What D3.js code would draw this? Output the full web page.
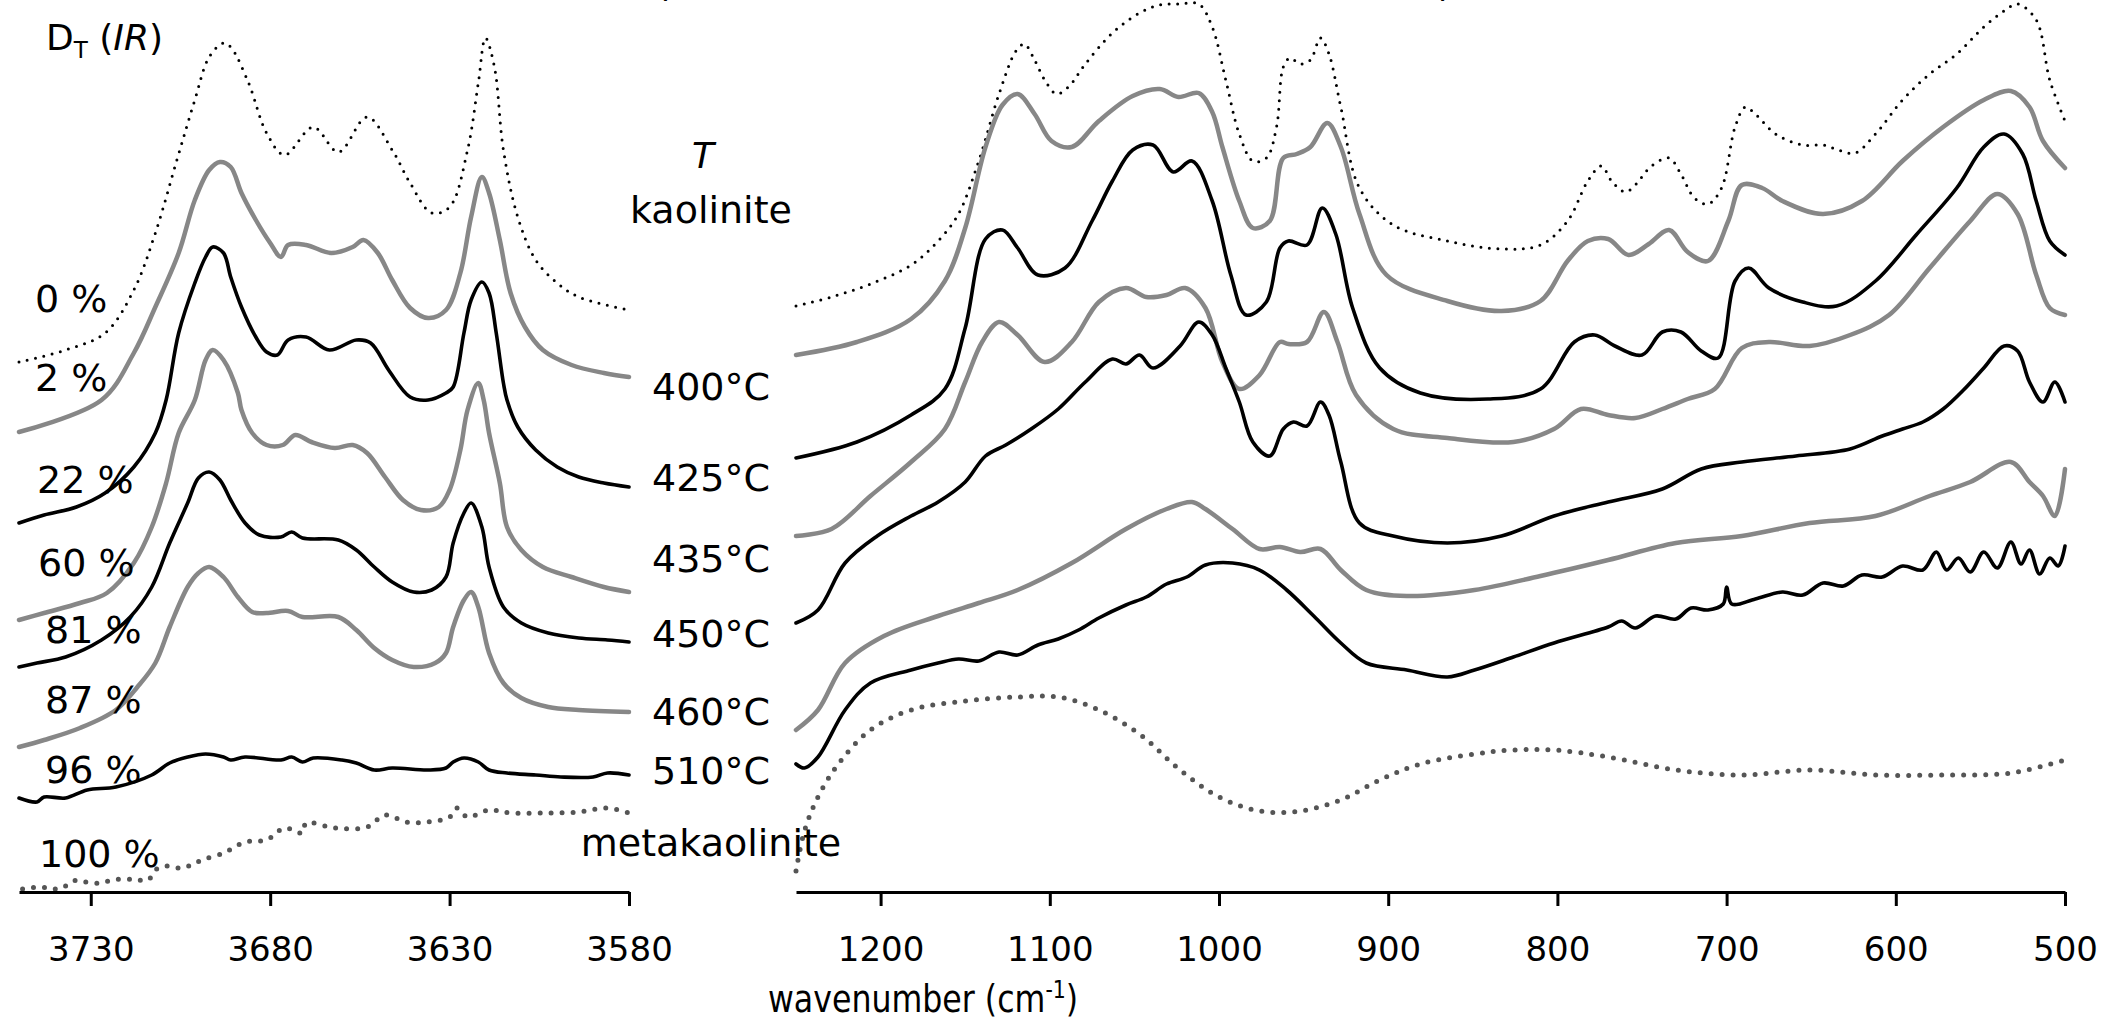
<!DOCTYPE html>
<html>
<head>
<meta charset="utf-8">
<script src="https://cdn.jsdelivr.net/npm/d3@7"></script>
<style>
  html, body { margin: 0; padding: 0; background: #fff; }
  svg { display: block; }
  text { font-family: "DejaVu Sans", sans-serif; fill: #000; }
</style>
</head>
<body>
<svg id="chart" width="2101" height="1020"></svg>
<script>
// ---- labels ---------------------------------------------------------------
const seriesNames = ["kaolinite", "400°C", "425°C", "435°C", "450°C", "460°C", "510°C", "metakaolinite"];
const conversionLabels = ["0 %", "2 %", "22 %", "60 %", "81 %", "87 %", "96 %", "100 %"];
const ohTicks = [3730, 3680, 3630, 3580];
const latticeTicks = [1200, 1100, 1000, 900, 800, 700, 600, 500];

// ---- OH-stretching region: [wavenumber, stacked absorbance] -----------------
const ohKaolinite = [[3750,5.30],[3737,5.42],[3726,5.59],[3718,6.02],[3712,6.59],[3706,7.32],[3701,7.92],[3697,8.35],[3693,8.49],[3691,8.45],[3686,8.09],[3681,7.59],[3676,7.37],[3668,7.65],[3661,7.40],[3653,7.75],[3646,7.42],[3641,7.09],[3635,6.79],[3630,6.85],[3625,7.42],[3622,8.09],[3620,8.54],[3617.5,8.25],[3615,7.42],[3611,6.75],[3606,6.32],[3600,6.09],[3594,5.95],[3580,5.82]];
const ohT400 = [[3750,4.60],[3727,4.92],[3718,5.39],[3712,5.85],[3705.5,6.39],[3701,6.92],[3697,7.22],[3694,7.30],[3691,7.25],[3688,6.99],[3684,6.72],[3680,6.49],[3677,6.35],[3675,6.47],[3670,6.47],[3663,6.39],[3657,6.45],[3654,6.52],[3650,6.39],[3646,6.12],[3641,5.84],[3636,5.74],[3631,5.82],[3627,6.19],[3624,6.75],[3621,7.15],[3619,6.99],[3616,6.52],[3613,5.99],[3609,5.65],[3604,5.42],[3596,5.27],[3587,5.19],[3580,5.15]];
const ohT425 = [[3750,3.69],[3743,3.77],[3734,3.85],[3726,3.99],[3718,4.25],[3712,4.59],[3709,4.92],[3705.5,5.59],[3701,6.09],[3698,6.35],[3696,6.45],[3693,6.39],[3691,6.15],[3688,5.85],[3684,5.55],[3681,5.40],[3678,5.37],[3675,5.52],[3670,5.55],[3663.5,5.42],[3656,5.52],[3652,5.49],[3647,5.22],[3641,4.95],[3636,4.92],[3631,4.99],[3629,5.05],[3626,5.59],[3624,5.92],[3621,6.10],[3619,5.99],[3617,5.59],[3615,5.09],[3614,4.92],[3611,4.65],[3606,4.42],[3600,4.25],[3594,4.15],[3587,4.09],[3580,4.05]];
const ohT435 = [[3750,2.72],[3743,2.79],[3733,2.89],[3725.5,2.99],[3718,3.29],[3713,3.65],[3709,4.09],[3705.5,4.59],[3701,4.92],[3698,5.32],[3696,5.42],[3693,5.32],[3689,4.99],[3688,4.82],[3685,4.59],[3681,4.47],[3676.5,4.47],[3673,4.57],[3668.5,4.50],[3662,4.44],[3657,4.47],[3653,4.39],[3648,4.15],[3643,3.92],[3638,3.82],[3633,3.85],[3630,4.02],[3627,4.42],[3625,4.82],[3622,5.09],[3620.5,4.92],[3619,4.59],[3616,4.09],[3614,3.65],[3610,3.42],[3604,3.25],[3596,3.15],[3587,3.05],[3580,3.00]];
const ohT450 = [[3750,2.25],[3745,2.29],[3737,2.35],[3727,2.52],[3719,2.75],[3713,3.05],[3708,3.49],[3703,3.89],[3700,4.14],[3697,4.20],[3694,4.12],[3691,3.92],[3687,3.69],[3683,3.57],[3677,3.55],[3674,3.60],[3671,3.54],[3661,3.52],[3656,3.42],[3651,3.25],[3646,3.10],[3640,3.00],[3635,3.02],[3631,3.15],[3629,3.49],[3626,3.79],[3624,3.89],[3621,3.65],[3619,3.25],[3615,2.85],[3610,2.69],[3602.5,2.59],[3594,2.54],[3586,2.52],[3580,2.50]];
const ohT460 = [[3750,1.45],[3743,1.52],[3733,1.64],[3723,1.82],[3717,2.05],[3712,2.29],[3708,2.65],[3703,3.05],[3700,3.19],[3697,3.25],[3693,3.15],[3689,2.95],[3685,2.80],[3681,2.79],[3675,2.81],[3671,2.75],[3661,2.75],[3656,2.62],[3651,2.44],[3646,2.32],[3640,2.25],[3634,2.29],[3631,2.39],[3629,2.65],[3626,2.92],[3624,3.00],[3622,2.85],[3619,2.39],[3615,2.09],[3610,1.94],[3602.5,1.85],[3594,1.82],[3580,1.80]];
const ohT510 = [[3750,0.94],[3745,0.90],[3743,0.95],[3737,0.94],[3731,1.02],[3723,1.05],[3713,1.17],[3708,1.29],[3703,1.35],[3698,1.38],[3693,1.35],[3691,1.32],[3687,1.35],[3677,1.32],[3674,1.35],[3671,1.30],[3668,1.34],[3660,1.32],[3656,1.29],[3651,1.22],[3646,1.24],[3636,1.22],[3631,1.24],[3629,1.30],[3626,1.34],[3622,1.30],[3619,1.22],[3614,1.19],[3606,1.17],[3599,1.15],[3590,1.15],[3586,1.19],[3580,1.17]];
const ohMeta = [[3749,0.03],[3744,0.05],[3741,0.03],[3738,0.04],[3735,0.11],[3733,0.11],[3730,0.09],[3727,0.09],[3724,0.12],[3720,0.13],[3717,0.12],[3714,0.12],[3712,0.22],[3709,0.26],[3705,0.24],[3702,0.27],[3699,0.32],[3693,0.39],[3687,0.50],[3681,0.52],[3676,0.64],[3671,0.59],[3670,0.69],[3662,0.64],[3653,0.65],[3648,0.77],[3642,0.70],[3636,0.70],[3630,0.75],[3628,0.84],[3625,0.75],[3619,0.82],[3613,0.79],[3603,0.79],[3594,0.80],[3586,0.84],[3580,0.79]];

// ---- lattice region: [wavenumber, stacked absorbance] -----------------------
const latKaolinite = [[1250,5.86],[1229,5.95],[1206,6.08],[1182,6.27],[1166,6.51],[1154,6.78],[1142,7.31],[1130,7.98],[1120,8.41],[1115,8.48],[1109,8.32],[1103,8.12],[1096,7.98],[1089,8.05],[1079,8.28],[1063,8.59],[1047,8.79],[1035,8.87],[1023,8.88],[1012,8.88],[1004,8.65],[996,8.12],[988,7.58],[980,7.31],[972,7.34],[966,7.65],[962,8.25],[958,8.34],[952,8.28],[946,8.32],[940,8.54],[935,8.38],[928,7.85],[917,7.04],[897,6.67],[865,6.51],[833,6.43],[810,6.47],[794,6.71],[782,7.11],[774,7.26],[768,7.11],[760,7.00],[754,7.07],[745,7.25],[734,7.34],[727,7.18],[719,6.94],[711,6.88],[703,7.04],[695,7.65],[689,7.85],[683,7.78],[671,7.58],[655,7.47],[643,7.47],[634,7.42],[624,7.39],[612,7.58],[596,7.92],[580,8.18],[564,8.38],[548,8.65],[536,8.81],[528,8.88],[517,8.72],[509,8.12],[500,7.71]];
const latT400 = [[1250,5.37],[1214,5.50],[1182,5.73],[1162,6.11],[1150,6.64],[1138,7.45],[1128,7.87],[1119,7.98],[1109,7.78],[1099,7.51],[1087,7.45],[1071,7.71],[1051,7.96],[1035,8.03],[1024,7.95],[1012,7.99],[1004,7.80],[998,7.45],[988,6.91],[980,6.64],[970,6.71],[962,7.34],[954,7.38],[946,7.45],[936,7.69],[928,7.45],[917,6.78],[901,6.17],[865,5.91],[833,5.81],[810,5.91],[794,6.31],[782,6.51],[770,6.53],[758,6.37],[746,6.48],[734,6.62],[723,6.40],[711,6.31],[699,6.71],[691,7.07],[679,7.04],[667,6.91],[643,6.78],[620,6.91],[596,7.31],[572,7.65],[548,7.92],[532,8.01],[521,7.85],[513,7.51],[500,7.24]];
const latT425 = [[1250,4.34],[1214,4.50],[1182,4.77],[1162,5.03],[1150,5.64],[1138,6.53],[1128,6.62],[1119,6.44],[1107,6.17],[1091,6.24],[1075,6.71],[1063,7.11],[1051,7.42],[1039,7.47],[1027,7.20],[1016,7.31],[1004,6.91],[993,6.17],[984,5.77],[972,5.90],[964,6.44],[959,6.51],[948,6.47],[939,6.84],[931,6.58],[921,5.84],[905,5.24],[881,4.99],[841,4.93],[810,5.03],[790,5.50],[778,5.57],[766,5.46],[750,5.37],[738,5.60],[727,5.60],[715,5.41],[705,5.34],[695,6.11],[687,6.24],[675,6.04],[655,5.90],[635,5.86],[612,6.11],[588,6.57],[564,7.04],[548,7.45],[536,7.58],[525,7.38],[517,6.91],[509,6.51],[500,6.37]];
const latT435 = [[1250,3.56],[1229,3.63],[1206,3.96],[1182,4.30],[1162,4.63],[1150,5.10],[1140,5.50],[1130,5.70],[1119,5.57],[1103,5.30],[1087,5.50],[1071,5.90],[1055,6.04],[1043,5.95],[1031,5.97],[1020,6.04],[1008,5.84],[998,5.30],[988,5.03],[976,5.17],[964,5.50],[959,5.48],[948,5.50],[938,5.80],[930,5.50],[919,4.97],[897,4.63],[865,4.54],[826,4.50],[802,4.63],[786,4.83],[770,4.77],[754,4.74],[738,4.83],[723,4.93],[707,5.03],[691,5.44],[675,5.50],[651,5.46],[627,5.57],[604,5.77],[580,6.24],[556,6.71],[540,6.98],[528,6.78],[517,6.17],[509,5.84],[500,5.77]];
const latT450 = [[1250,2.69],[1237,2.82],[1221,3.29],[1202,3.56],[1182,3.76],[1166,3.90],[1150,4.10],[1138,4.36],[1126,4.47],[1111,4.63],[1095,4.83],[1079,5.10],[1063,5.33],[1055,5.28],[1047,5.37],[1039,5.24],[1023,5.46],[1012,5.70],[1004,5.57],[996,5.24],[988,4.90],[980,4.50],[970,4.36],[962,4.63],[956,4.70],[948,4.66],[940,4.90],[935,4.77],[928,4.30],[917,3.69],[897,3.56],[865,3.49],[833,3.56],[802,3.76],[770,3.90],[738,4.03],[715,4.23],[691,4.30],[659,4.36],[627,4.43],[608,4.56],[596,4.63],[584,4.70],[572,4.83],[560,5.02],[548,5.24],[536,5.46],[528,5.41],[521,5.10],[513,4.90],[506,5.10],[500,4.90]];
const latT460 = [[1250,1.62],[1237,1.82],[1221,2.29],[1198,2.56],[1166,2.76],[1142,2.89],[1119,3.02],[1087,3.29],[1055,3.63],[1031,3.83],[1016,3.90],[1008,3.83],[992,3.63],[976,3.43],[964,3.45],[952,3.40],[940,3.43],[928,3.22],[913,3.02],[889,2.96],[849,3.02],[810,3.16],[770,3.32],[730,3.49],[691,3.56],[651,3.69],[612,3.76],[580,3.96],[556,4.10],[532,4.30],[521,4.10],[513,3.96],[506,3.76],[500,4.23]];
const latT510 = [[1250,1.28],[1245,1.24],[1237,1.35],[1221,1.82],[1206,2.09],[1182,2.22],[1166,2.29],[1154,2.33],[1142,2.31],[1130,2.40],[1119,2.37],[1107,2.47],[1095,2.53],[1083,2.62],[1071,2.74],[1055,2.87],[1043,2.95],[1031,3.08],[1019,3.15],[1008,3.27],[992,3.29],[976,3.22],[960,3.02],[944,2.76],[928,2.49],[913,2.29],[889,2.22],[865,2.15],[849,2.22],[826,2.35],[802,2.49],[770,2.65],[762,2.71],[754,2.64],[742,2.76],[730,2.73],[721,2.84],[711,2.82],[702,2.88],[700,3.05],[697,2.88],[683,2.93],[667,3.00],[655,2.97],[643,3.09],[631,3.06],[620,3.17],[608,3.15],[596,3.26],[584,3.22],[576,3.40],[570,3.22],[563,3.34],[556,3.20],[548,3.40],[540,3.24],[532,3.50],[526,3.28],[521,3.42],[515,3.18],[509,3.34],[504,3.26],[500,3.46]];
const latMeta = [[1250,0.21],[1245,0.61],[1237,0.95],[1225,1.28],[1206,1.62],[1182,1.82],[1150,1.91],[1119,1.95],[1095,1.95],[1071,1.82],[1047,1.58],[1023,1.22],[1000,0.95],[976,0.81],[952,0.81],[928,0.92],[905,1.12],[881,1.28],[849,1.38],[826,1.42],[802,1.42],[770,1.35],[730,1.22],[691,1.17],[651,1.22],[612,1.17],[572,1.17],[532,1.19],[500,1.32]];

const ohSeries = [ohKaolinite, ohT400, ohT425, ohT435, ohT450, ohT460, ohT510, ohMeta];
const latSeries = [latKaolinite, latT400, latT425, latT435, latT450, latT460, latT510, latMeta];

// ---- styling ----------------------------------------------------------------
const lineStyles = [
  { stroke: "#000",    width: 3,   dash: "0 8.5" },
  { stroke: "#878787", width: 4.5, dash: null },
  { stroke: "#000",    width: 3.6, dash: null },
  { stroke: "#878787", width: 4.5, dash: null },
  { stroke: "#000",    width: 3.6, dash: null },
  { stroke: "#878787", width: 4.5, dash: null },
  { stroke: "#000",    width: 3.6, dash: null },
  { stroke: "#555",    width: 5,   dash: "0 11" }
];

const W = 2101, H = 1020;
const axisY = 892;

const svg = d3.select("#chart");
svg.append("rect").attr("width", W).attr("height", H).attr("fill", "#fff");

const xOH = d3.scaleLinear().domain([3750, 3580]).range([19, 629]);
const xLat = d3.scaleLinear().domain([1250, 500]).range([796, 2065]);
const y = d3.scaleLinear().domain([0, 8.92]).range([axisY, 0]);

function drawPanel(xScale, seriesList) {
  const line = d3.line()
    .x(d => xScale(d[0]))
    .y(d => y(d[1]))
    .curve(d3.curveCatmullRom.alpha(0.5));
  svg.append("g").selectAll("path")
    .data(seriesList)
    .join("path")
    .attr("d", line)
    .attr("fill", "none")
    .attr("stroke", (d, i) => lineStyles[i].stroke)
    .attr("stroke-width", (d, i) => lineStyles[i].width)
    .attr("stroke-linecap", "round")
    .attr("stroke-linejoin", "round")
    .attr("stroke-dasharray", (d, i) => lineStyles[i].dash);
}
drawPanel(xOH, ohSeries);
drawPanel(xLat, latSeries);

// ---- axes -------------------------------------------------------------------
function drawAxis(xScale, ticks) {
  const ax = svg.append("g")
    .attr("transform", `translate(0,${axisY})`)
    .call(d3.axisBottom(xScale).tickValues(ticks).tickSize(14).tickSizeOuter(0).tickFormat(d3.format("d")));
  ax.select(".domain").attr("stroke", "#000").attr("stroke-width", 3);
  ax.selectAll(".tick line").attr("stroke", "#000").attr("stroke-width", 3);
  ax.selectAll(".tick text")
    .attr("y", 69).attr("dy", null)
    .attr("font-family", "Roboto")
    .attr("font-size", 34)
    .attr("fill", "#000");
}
drawAxis(xOH, ohTicks);
drawAxis(xLat, latticeTicks);

// axis title (slightly condensed set)
const title = svg.append("text")
  .attr("transform", "translate(768,1012) scale(0.855,1)")
  .attr("font-family", "Roboto")
  .attr("font-size", 37);
title.append("tspan").text("wavenumber (cm");
title.append("tspan").attr("font-size", 24).attr("dy", -14).text("-1");
title.append("tspan").attr("dy", 14).text(")");

// quantity label
const dLabel = svg.append("text").attr("x", 46).attr("y", 50).attr("font-size", 36);
dLabel.append("tspan").text("D");
dLabel.append("tspan").attr("font-size", 23).attr("dy", 8).text("T");
dLabel.append("tspan").attr("dy", -8).text(" (");
dLabel.append("tspan").attr("font-style", "italic").text("IR");
dLabel.append("tspan").text(")");

// temperature column
svg.append("text").attr("x", 703).attr("y", 168)
  .attr("text-anchor", "middle").attr("font-size", 36).attr("font-style", "italic").text("T");
const tempBaselines = [223, 400, 491, 572, 647, 725, 784, 856];
svg.append("g").selectAll("text")
  .data(seriesNames)
  .join("text")
  .attr("x", 711)
  .attr("y", (d, i) => tempBaselines[i])
  .attr("text-anchor", "middle")
  .attr("font-size", 38)
  .text(d => d);

// degree of dehydroxylation column
const convX = [35, 35, 37, 38, 45, 45, 45, 39];
const convBaselines = [312, 391, 493, 576, 643, 713, 783, 867];
svg.append("g").selectAll("text")
  .data(conversionLabels)
  .join("text")
  .attr("x", (d, i) => convX[i])
  .attr("y", (d, i) => convBaselines[i])
  .attr("font-size", 38)
  .text(d => d);

// heading characters running off the top edge
svg.append("text").attr("x", 656).attr("y", -4).attr("font-size", 36).text("(");
svg.append("text").attr("x", 1438).attr("y", -4).attr("font-size", 36).text(")");
</script>
</body>
</html>
